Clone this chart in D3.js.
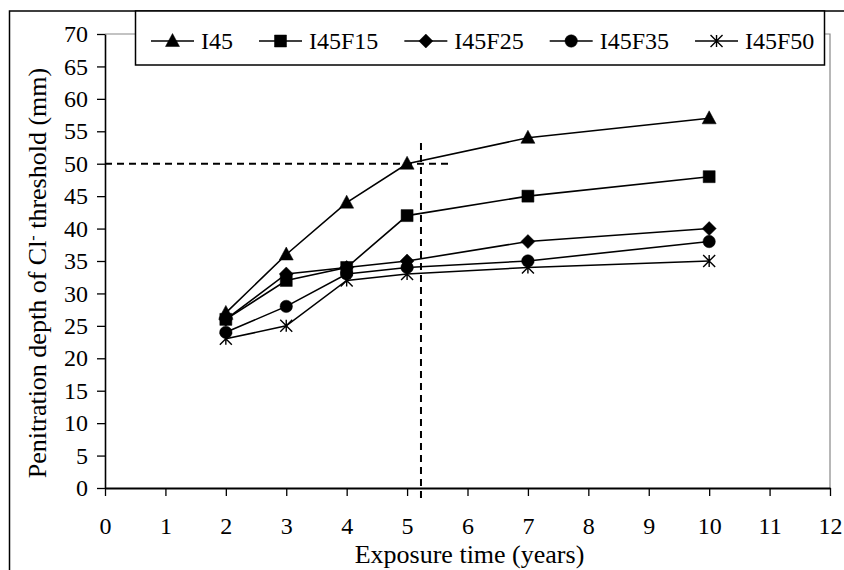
<!DOCTYPE html>
<html>
<head>
<meta charset="utf-8">
<script src="https://cdn.jsdelivr.net/npm/d3@7"></script>
<style>
  body { margin: 0; background: #fff; }
  svg { display: block; }
  text { font-family: "Liberation Serif", "Times New Roman", serif; fill: #000; }
</style>
</head>
<body>
<svg id="chart" width="844" height="570"></svg>
<script>
// Exposure times (years) and chloride-threshold penetration depth (mm) per mix
const years = [2, 3, 4, 5, 7, 10];
const seriesNames = ["I45", "I45F15", "I45F25", "I45F35", "I45F50"];
const depthI45    = [27, 36, 44, 50, 54, 57];
const depthI45F15 = [26, 32, 34, 42, 45, 48];
const depthI45F25 = [26, 33, 34, 35, 38, 40];
const depthI45F35 = [24, 28, 33, 34, 35, 38];
const depthI45F50 = [23, 25, 32, 33, 34, 35];
const markerShapes = ["triangle", "square", "diamond", "circle", "star"];
const xTicks = d3.range(0, 13, 1);
const yTicks = d3.range(0, 71, 5);
// Reference guides: 50 mm cover depth reached at about 5.2 years
const guideDepth = 50;
const guideDepthEnd = 5.76;
const guideTime = 5.23;
const guideTimeSpan = [-2.1, 53.2];

const series = seriesNames.map((name, i) => ({
  name,
  shape: markerShapes[i],
  values: [depthI45, depthI45F15, depthI45F25, depthI45F35, depthI45F50][i]
    .map((v, j) => ({ x: years[j], y: v }))
}));

const svg = d3.select("#chart");

const x = d3.scaleLinear().domain([0, 12]).range([105, 830]);
const y = d3.scaleLinear().domain([0, 70]).range([488, 34]);

// outer frame (runs off the right and bottom edges)
svg.append("rect")
  .attr("x", 9.5).attr("y", 11)
  .attr("width", 900).attr("height", 600)
  .attr("fill", "none").attr("stroke", "#000").attr("stroke-width", 1.5);

// plot-area border (grey top and right)
svg.append("path")
  .attr("d", `M${x(0)},${y(70)}H${x(12)}V${y(0)}`)
  .attr("fill", "none").attr("stroke", "#888").attr("stroke-width", 1.2);

// y axis
const yAxis = svg.append("g")
  .attr("transform", `translate(${x(0)},0)`)
  .call(d3.axisLeft(y).tickValues(yTicks).tickSize(8).tickPadding(9).tickSizeOuter(0));
yAxis.select(".domain").attr("stroke", "#000").attr("stroke-width", 1.6);
yAxis.selectAll(".tick line").attr("stroke", "#000").attr("stroke-width", 1.3);
yAxis.selectAll(".tick text").attr("font-size", 24).style("font-family", '"Liberation Serif", serif');

// x axis
const xAxis = svg.append("g")
  .attr("transform", `translate(0,${y(0)})`)
  .call(d3.axisBottom(x).tickValues(xTicks).tickSize(8).tickPadding(21).tickSizeOuter(0));
xAxis.select(".domain").attr("stroke", "#000").attr("stroke-width", 2);
xAxis.selectAll(".tick line").attr("stroke", "#000").attr("stroke-width", 1.3);
xAxis.selectAll(".tick text").attr("font-size", 24).style("font-family", '"Liberation Serif", serif');

// axis titles
svg.append("text")
  .attr("x", (x(0) + x(12)) / 2 + 2).attr("y", 563)
  .attr("text-anchor", "middle").attr("font-size", 26)
  .text("Exposure time (years)");

const yTitle = svg.append("text")
  .attr("transform", `translate(46,${(y(0) + y(70)) / 2 + 12}) rotate(-90)`)
  .attr("text-anchor", "middle").attr("font-size", 26);
yTitle.append("tspan").text("Penitration depth of Cl");
yTitle.append("tspan").attr("baseline-shift", "super").attr("font-size", 16).text("-");
yTitle.append("tspan").text(" threshold (mm)");

// dashed guide lines
svg.append("line")
  .attr("x1", x(0)).attr("x2", x(guideDepthEnd))
  .attr("y1", y(guideDepth)).attr("y2", y(guideDepth))
  .attr("stroke", "#000").attr("stroke-width", 2).attr("stroke-dasharray", "7,5");
svg.append("line")
  .attr("x1", x(guideTime)).attr("x2", x(guideTime))
  .attr("y1", y(guideTimeSpan[1])).attr("y2", y(guideTimeSpan[0]))
  .attr("stroke", "#000").attr("stroke-width", 2).attr("stroke-dasharray", "7,5");

// marker shapes
function markerPath(shape, cx, cy) {
  const p = d3.path();
  if (shape === "triangle") {
    p.moveTo(cx, cy - 7.5); p.lineTo(cx + 7, cy + 5.5); p.lineTo(cx - 7, cy + 5.5); p.closePath();
  } else if (shape === "square") {
    p.rect(cx - 6, cy - 6, 12, 12);
  } else if (shape === "diamond") {
    p.moveTo(cx, cy - 7); p.lineTo(cx + 7, cy); p.lineTo(cx, cy + 7); p.lineTo(cx - 7, cy); p.closePath();
  } else if (shape === "circle") {
    p.arc(cx, cy, 6.2, 0, 2 * Math.PI);
  } else {
    const r = 6;
    p.moveTo(cx - r, cy - r); p.lineTo(cx + r, cy + r);
    p.moveTo(cx - r, cy + r); p.lineTo(cx + r, cy - r);
    p.moveTo(cx, cy - r); p.lineTo(cx, cy + r);
  }
  return p.toString();
}
function drawMarker(g, shape, cx, cy) {
  const star = shape === "star";
  g.append("path")
    .attr("d", markerPath(shape, cx, cy))
    .attr("fill", star ? "none" : "#000")
    .attr("stroke", "#000")
    .attr("stroke-width", star ? 1.4 : 0.5);
}

const line = d3.line().x(d => x(d.x)).y(d => y(d.y));

const plot = svg.append("g");
series.forEach(s => {
  plot.append("path")
    .datum(s.values)
    .attr("d", line)
    .attr("fill", "none").attr("stroke", "#000").attr("stroke-width", 1.6);
});
series.forEach(s => {
  const g = plot.append("g");
  s.values.forEach(d => drawMarker(g, s.shape, x(d.x), y(d.y)));
});

// legend
const legend = svg.append("g");
legend.append("rect")
  .attr("x", 135.5).attr("y", 11)
  .attr("width", 689).attr("height", 54)
  .attr("fill", "#fff").attr("stroke", "#000").attr("stroke-width", 1.5);

let lx = 151;
const ly = 41;
series.forEach(s => {
  legend.append("line")
    .attr("x1", lx).attr("x2", lx + 43)
    .attr("y1", ly).attr("y2", ly)
    .attr("stroke", "#000").attr("stroke-width", 1.6);
  drawMarker(legend, s.shape, lx + 21.5, ly);
  const t = legend.append("text")
    .attr("x", lx + 50).attr("y", ly + 7.5)
    .attr("font-size", 24)
    .text(s.name);
  lx = lx + 50 + t.node().getComputedTextLength() + 26;
});
</script>
</body>
</html>
